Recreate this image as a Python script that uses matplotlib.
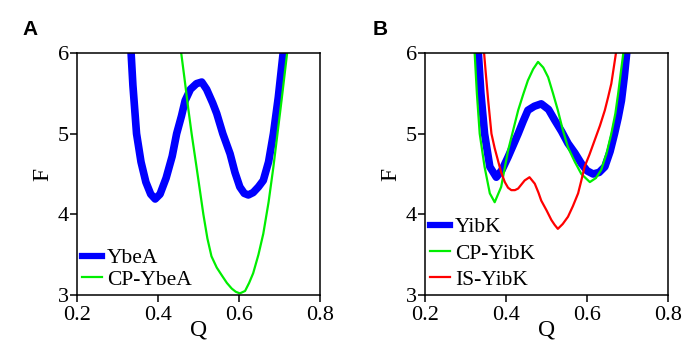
#!/usr/bin/env python

import matplotlib
matplotlib.use('Agg')
import matplotlib.pyplot as plt

plt.rcParams['font.family'] = ['Liberation Serif', 'DejaVu Serif']

# panel A
q_ybea = [0.333, 0.338, 0.347, 0.358, 0.370, 0.382, 0.393, 0.405, 0.420, 0.435,
          0.446, 0.458, 0.467, 0.480, 0.495, 0.508, 0.520, 0.535, 0.545, 0.560,
          0.578, 0.590, 0.602, 0.613, 0.623, 0.635, 0.648, 0.660, 0.673, 0.685,
          0.697, 0.709, 0.712]
f_ybea = [6.05, 5.60, 5.00, 4.65, 4.40, 4.25, 4.19, 4.25, 4.45, 4.72,
          5.00, 5.22, 5.41, 5.55, 5.62, 5.64, 5.55, 5.38, 5.25, 5.00,
          4.75, 4.52, 4.34, 4.26, 4.24, 4.27, 4.34, 4.42, 4.65, 5.00,
          5.45, 6.00, 6.05]
q_cpybea = [0.456, 0.465, 0.475, 0.483, 0.495, 0.512, 0.522, 0.532, 0.545, 0.558,
            0.570, 0.582, 0.592, 0.602, 0.615, 0.625, 0.635, 0.648, 0.660, 0.673,
            0.685, 0.695, 0.705, 0.713, 0.720]
f_cpybea = [6.05, 5.70, 5.30, 5.00, 4.59, 4.00, 3.70, 3.48, 3.34, 3.24,
            3.15, 3.08, 3.04, 3.02, 3.05, 3.15, 3.27, 3.50, 3.76, 4.15,
            4.59, 5.00, 5.41, 5.75, 6.05]

# panel B
q_yibk = [0.331, 0.338, 0.347, 0.360, 0.376, 0.390, 0.405, 0.418, 0.430, 0.442,
          0.454, 0.470, 0.487, 0.505, 0.520, 0.537, 0.553, 0.570, 0.586, 0.600,
          0.615, 0.630, 0.644, 0.657, 0.668, 0.677, 0.685, 0.692, 0.699]
f_yibk = [6.05, 5.50, 5.00, 4.59, 4.46, 4.55, 4.71, 4.86, 5.00, 5.15,
          5.29, 5.34, 5.37, 5.30, 5.17, 5.03, 4.88, 4.76, 4.63, 4.54,
          4.50, 4.52, 4.59, 4.78, 5.00, 5.20, 5.41, 5.70, 6.05]
q_cpyibk = [0.322, 0.328, 0.335, 0.347, 0.360, 0.372, 0.388, 0.405, 0.418, 0.430,
            0.442, 0.454, 0.467, 0.479, 0.492, 0.504, 0.516, 0.528, 0.540, 0.553,
            0.570, 0.586, 0.607, 0.622, 0.635, 0.648, 0.660, 0.670, 0.677, 0.684,
            0.691]
f_cpyibk = [6.05, 5.50, 5.00, 4.59, 4.26, 4.15, 4.34, 4.79, 5.05, 5.29,
            5.48, 5.66, 5.80, 5.89, 5.82, 5.70, 5.50, 5.29, 5.05, 4.83,
            4.65, 4.50, 4.40, 4.45, 4.55, 4.75, 5.00, 5.25, 5.50, 5.78,
            6.05]
q_isyibk = [0.345, 0.350, 0.356, 0.364, 0.372, 0.380, 0.388, 0.397, 0.405, 0.413,
            0.422, 0.430, 0.438, 0.446, 0.458, 0.471, 0.480, 0.487, 0.500, 0.512,
            0.520, 0.528, 0.540, 0.553, 0.565, 0.578, 0.586, 0.594, 0.606, 0.619,
            0.632, 0.644, 0.652, 0.660, 0.667, 0.673]
f_isyibk = [6.05, 5.75, 5.41, 5.00, 4.82, 4.67, 4.52, 4.40, 4.33, 4.30,
            4.30, 4.32, 4.37, 4.42, 4.46, 4.38, 4.27, 4.17, 4.05, 3.93,
            3.87, 3.82, 3.88, 3.97, 4.10, 4.26, 4.42, 4.59, 4.74, 4.92,
            5.10, 5.29, 5.45, 5.62, 5.85, 6.05]

blue = '#0000ff'
green = '#00ee00'
red = '#ff0000'

fig = plt.figure(figsize=(6.97, 3.48), dpi=100)
ax1 = fig.add_axes([0.1105, 0.1523, 0.3486, 0.6954])
ax2 = fig.add_axes([0.6098, 0.1523, 0.3486, 0.6954])

ax1.plot(q_ybea, f_ybea, color=blue, lw=5.5, label='YbeA')
ax1.plot(q_cpybea, f_cpybea, color=green, lw=1.6, label='CP-YbeA')

ax2.plot(q_yibk, f_yibk, color=blue, lw=5.5, label='YibK')
ax2.plot(q_cpyibk, f_cpyibk, color=green, lw=1.6, label='CP-YibK')
ax2.plot(q_isyibk, f_isyibk, color=red, lw=1.6, label='IS-YibK')

for ax, ls in ((ax1, 0.05), (ax2, 0.28)):
    ax.set_xlim(0.2, 0.8)
    ax.set_ylim(3, 6)
    ax.set_xticks([0.2, 0.4, 0.6, 0.8])
    ax.set_xticklabels(['0.2', '0.4', '0.6', '0.8'])
    ax.set_yticks([3, 4, 5, 6])
    ax.tick_params(direction='out', length=5, width=1.1, labelsize=16)
    ax.tick_params(axis='x', pad=3)
    ax.tick_params(axis='y', pad=1)
    for s in ax.spines.values():
        s.set_linewidth(1.1)
    ax.set_xlabel('Q', fontsize=17, labelpad=-4)
    ax.set_ylabel('F', fontsize=17, labelpad=3)
    leg = ax.legend(loc='lower left', frameon=False, fontsize=15.5,
                    handlelength=0.9, handletextpad=0.25, labelspacing=ls,
                    borderaxespad=0.05, borderpad=0.2)
    for ln in leg.get_lines():
        if ln.get_linewidth() > 3:
            ln.set_linewidth(4.5)

fig.text(0.043, 0.915, 'A', fontsize=15, fontweight='bold',
         family='Liberation Sans', ha='center', va='center')
fig.text(0.545, 0.915, 'B', fontsize=15, fontweight='bold',
         family='Liberation Sans', ha='center', va='center')

fig.savefig('out.png', dpi=100)
